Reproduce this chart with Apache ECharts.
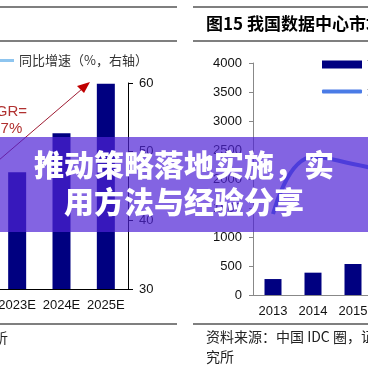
<!DOCTYPE html>
<html>
<head>
<meta charset="utf-8">
<script src="https://cdn.jsdelivr.net/npm/echarts@6/dist/echarts.min.js"></script>
<style>html,body{margin:0;padding:0;background:#fff;}#c{width:368px;height:368px;}</style>
</head>
<body>
<div id="c"></div>
<script>
// ---- data ----
const leftCategories = ['2023E', '2024E', '2025E'];
const leftMarket = [1700, 2270, 2990];          // bars on hidden left axis
const leftGrowthName = '同比增速（%，右轴）';
const leftRightTicks = [30, 40, 50, 60];

const rightCategories = ['2013', '2014', '2015', '2016'];
const rightMarket = [275, 385, 535, 720];       // 亿元
const rightGrowth = [27.9, 47.6, 45.2, 42.0];   // % (hidden right axis)
const rightBarName = '市场规模（亿元）';
const rightLineName = '增速（%，右轴）';

const titleText = '图15 我国数据中心市场规模及增速';
const sourceLine1 = '资料来源：中国 IDC 圈，证券研';
const sourceLine2 = '究所';
const bannerLine1 = '推动策略落地实施，实';
const bannerLine2 = '用方法与经验分享';

const chart = echarts.init(document.getElementById('c'), null, {renderer: 'canvas'});
const lab = {fontSize: 13, color: '#111', fontFamily: 'Liberation Sans, Arial, sans-serif'};
const cjk = '"Noto Sans CJK SC", sans-serif';

chart.setOption({
  animation: false,
  backgroundColor: '#fff',
  grid: [
    {left: -5, top: 83, width: 133, bottom: 79, outerBoundsMode: 'none', containLabel: false},
    {left: 253, top: 63, width: 160, bottom: 73, outerBoundsMode: 'none', containLabel: false}
  ],
  legend: [
    {data: [{name: leftGrowthName, icon: 'rect'}], left: -26, top: 54, padding: 0, itemWidth: 40, itemHeight: 3,
     selectedMode: false, textStyle: {fontSize: 13, color: '#333', fontFamily: cjk}},
    {data: [{name: rightBarName, icon: 'rect'}], left: 322, top: 58, padding: 0, itemWidth: 40, itemHeight: 8,
     selectedMode: false, textStyle: {fontSize: 13, color: '#333', fontFamily: cjk}},
    {data: [{name: rightLineName, icon: 'roundRect'}], left: 322, top: 85, padding: 0, itemWidth: 40, itemHeight: 4,
     selectedMode: false, textStyle: {fontSize: 13, color: '#333', fontFamily: cjk}}
  ],
  xAxis: [
    {type: 'category', gridIndex: 0, data: leftCategories,
     axisLine: {lineStyle: {color: '#000', width: 1}}, axisTick: {length: 4, lineStyle: {color: '#000'}},
     axisLabel: Object.assign({margin: 10, interval: 0, hideOverlap: false}, lab)},
    {type: 'category', gridIndex: 1, data: rightCategories,
     axisLine: {lineStyle: {color: '#888', width: 1}}, axisTick: {length: 4, lineStyle: {color: '#888'}},
     axisLabel: Object.assign({margin: 10, interval: 0}, lab)}
  ],
  yAxis: [
    {type: 'value', gridIndex: 0, min: 0, max: 3000, show: false},
    {type: 'value', gridIndex: 0, position: 'right', min: leftRightTicks[0], max: leftRightTicks[leftRightTicks.length - 1], interval: 10,
     axisLine: {show: true, lineStyle: {color: '#000'}}, axisTick: {show: true, length: 5, lineStyle: {color: '#000'}},
     splitLine: {show: false}, axisLabel: Object.assign({margin: 11}, lab)},
    {type: 'value', gridIndex: 1, min: 0, max: 4000, interval: 500,
     axisLine: {show: true, lineStyle: {color: '#888'}}, axisTick: {show: true, length: 4, lineStyle: {color: '#888'}},
     splitLine: {show: false}, axisLabel: Object.assign({margin: 11, formatter: v => String(v)}, lab)},
    {type: 'value', gridIndex: 1, position: 'right', min: 0, max: 80, show: false}
  ],
  series: [
    {type: 'bar', name: '市场规模', xAxisIndex: 0, yAxisIndex: 0, data: leftMarket, barWidth: 18,
     itemStyle: {color: '#000080'}},
    {type: 'line', name: leftGrowthName, xAxisIndex: 0, yAxisIndex: 1, data: [], symbol: 'none',
     itemStyle: {color: '#8ec5ef'}, lineStyle: {color: '#8ec5ef', width: 3}},
    {type: 'bar', name: rightBarName, xAxisIndex: 1, yAxisIndex: 2, data: rightMarket, barWidth: 17,
     itemStyle: {color: '#000080'}},
    {type: 'line', name: rightLineName, xAxisIndex: 1, yAxisIndex: 3, data: rightGrowth, smooth: true, symbol: 'none',
     itemStyle: {color: '#4a7be6'}, lineStyle: {color: '#4a7be6', width: 4}}
  ],
  graphic: [
    // rules
    {type: 'line', shape: {x1: 0, y1: 7, x2: 177, y2: 7}, style: {stroke: '#000', lineWidth: 1.2}},
    {type: 'line', shape: {x1: 0, y1: 41, x2: 177, y2: 41}, style: {stroke: '#000', lineWidth: 1.2}},
    {type: 'line', shape: {x1: 0, y1: 324, x2: 177, y2: 324}, style: {stroke: '#000', lineWidth: 1.2}},
    {type: 'line', shape: {x1: 193, y1: 7, x2: 368, y2: 7}, style: {stroke: '#000', lineWidth: 1.2}},
    {type: 'line', shape: {x1: 193, y1: 41, x2: 368, y2: 41}, style: {stroke: '#000', lineWidth: 1.2}},
    {type: 'line', shape: {x1: 193, y1: 324, x2: 368, y2: 324}, style: {stroke: '#000', lineWidth: 1.2}},
    // title & sources
    {type: 'text', x: 206, y: 24, style: {text: titleText, fontSize: 17, fontWeight: 'bold', fill: '#000',
      fontFamily: cjk, verticalAlign: 'middle'}},
    {type: 'text', x: 206, y: 337, style: {text: sourceLine1, fontSize: 14, fill: '#222', fontFamily: cjk, verticalAlign: 'middle'}},
    {type: 'text', x: 206, y: 357, style: {text: sourceLine2, fontSize: 14, fill: '#222', fontFamily: cjk, verticalAlign: 'middle'}},
    {type: 'text', x: 8, y: 338, style: {text: '分析', fontSize: 14, fill: '#222', fontFamily: cjk, align: 'right', verticalAlign: 'middle'}},
    // CAGR annotation
    {type: 'line', shape: {x1: -50, y1: 202, x2: 82, y2: 89}, style: {stroke: '#9e1b32', lineWidth: 1}},
    {type: 'polygon', shape: {points: [[90, 82], [84, 93], [77, 86]]}, style: {fill: '#c00000'}},
    {type: 'text', x: 1, y: 112, style: {text: 'CAGR=', fontSize: 15, fill: '#b0302f', fontFamily: 'Liberation Sans, Arial',
      align: 'center', verticalAlign: 'middle'}},
    {type: 'text', x: 1, y: 129, style: {text: '12.7%', fontSize: 15, fill: '#b0302f', fontFamily: 'Liberation Sans, Arial',
      align: 'center', verticalAlign: 'middle'}},
    // banner
    {type: 'rect', z: 100, shape: {x: 0, y: 137, width: 368, height: 95}, style: {fill: 'rgba(78,34,214,0.70)'}},
    {type: 'text', z: 101, x: 184, y: 165, style: {text: bannerLine1, fontSize: 30, fontWeight: 900, fill: '#fff',
      fontFamily: cjk, align: 'center', verticalAlign: 'middle'}},
    {type: 'text', z: 101, x: 184, y: 202, style: {text: bannerLine2, fontSize: 30, fontWeight: 900, fill: '#fff',
      fontFamily: cjk, align: 'center', verticalAlign: 'middle'}}
  ]
});
</script>
</body>
</html>
